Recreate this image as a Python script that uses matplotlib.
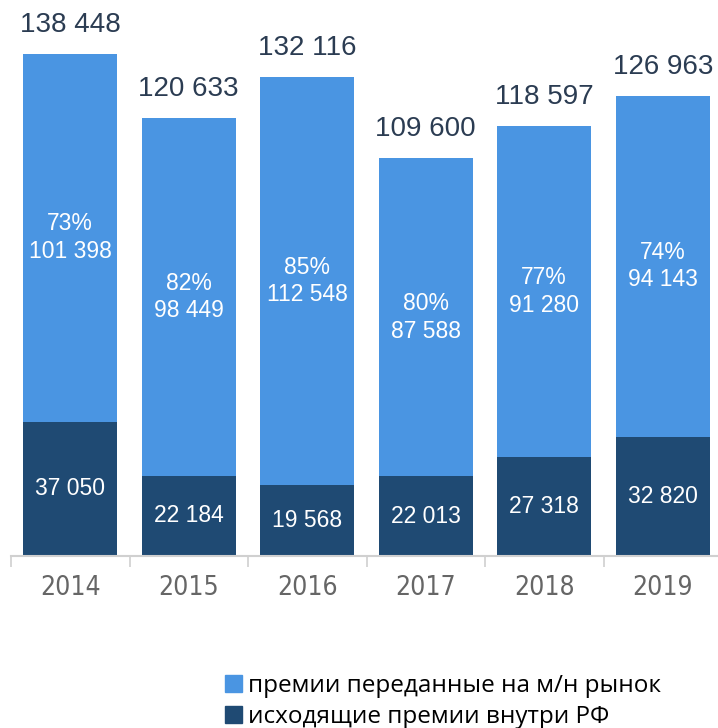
import matplotlib
matplotlib.use('Agg')
import matplotlib.pyplot as plt
from matplotlib.patches import Patch
import numpy as np

years = ['2014', '2015', '2016', '2017', '2018', '2019']
totals = [138448, 120633, 132116, 109600, 118597, 126963]
outward = [101398, 98449, 112548, 87588, 91280, 94143]   # передано на м/н рынок
domestic = [37050, 22184, 19568, 22013, 27318, 32820]    # внутри РФ
shares = ['73%', '82%', '85%', '80%', '77%', '74%']

light = '#4A95E2'
dark = '#1F4A73'
label_col = '#2B3C52'


def fmt(v):
    return f'{v:,}'.replace(',', ' ')


plt.rcParams['font.family'] = ['Liberation Sans', 'DejaVu Sans']

fig = plt.figure(figsize=(7.18, 7.28), dpi=100)
ax = fig.add_axes([11 / 718, 172 / 728, 711 / 718, 556 / 728])

x = np.arange(len(years))
w = 0.79
ax.bar(x, domestic, w, color=dark, zorder=2)
ax.bar(x, outward, w, bottom=domestic, color=light, zorder=2)

ax.set_xlim(-0.5, len(years) - 0.5)
ax.set_ylim(0, 153300)

for i in range(len(years)):
    ax.text(x[i], totals[i] + 8000, fmt(totals[i]), ha='center', va='center',
            fontsize=20, color=label_col)
    mid = domestic[i] + outward[i] / 2
    ax.text(x[i], mid, shares[i] + '\n' + fmt(outward[i]), ha='center', va='center',
            fontsize=16.5, color='white', linespacing=1.25)
    ax.text(x[i], domestic[i] / 2, fmt(domestic[i]), ha='center', va='center',
            fontsize=16.5, color='white')

for s in ['top', 'right', 'left']:
    ax.spines[s].set_visible(False)
ax.spines['bottom'].set_color('#D0D0D0')
ax.spines['bottom'].set_linewidth(1.5)
ax.set_yticks([])
ax.set_xticks(x)
ax.set_xticklabels(years, fontsize=19, color='#666666', family='DejaVu Sans',
                   fontstretch='condensed', fontweight='light')
ax.tick_params(axis='x', which='major', length=0, pad=14)
ax.set_xticks(np.arange(-0.5, len(years)), minor=True)
ax.tick_params(axis='x', which='minor', length=8, width=1.2, color='#D0D0D0')

handles = [Patch(color=light, label='премии переданные на м/н рынок'),
           Patch(color=dark, label='исходящие премии внутри РФ')]
fig.legend(handles=handles, loc='upper left', bbox_to_anchor=(215 / 718, 1 - 664 / 728),
           frameon=False, handlelength=0.7, handleheight=0.7,
           handletextpad=0.25, labelspacing=0.3, borderaxespad=0,
           prop={'family': ['Open Sans', 'DejaVu Sans'], 'size': 17.5})

fig.savefig('out.png', dpi=100)
